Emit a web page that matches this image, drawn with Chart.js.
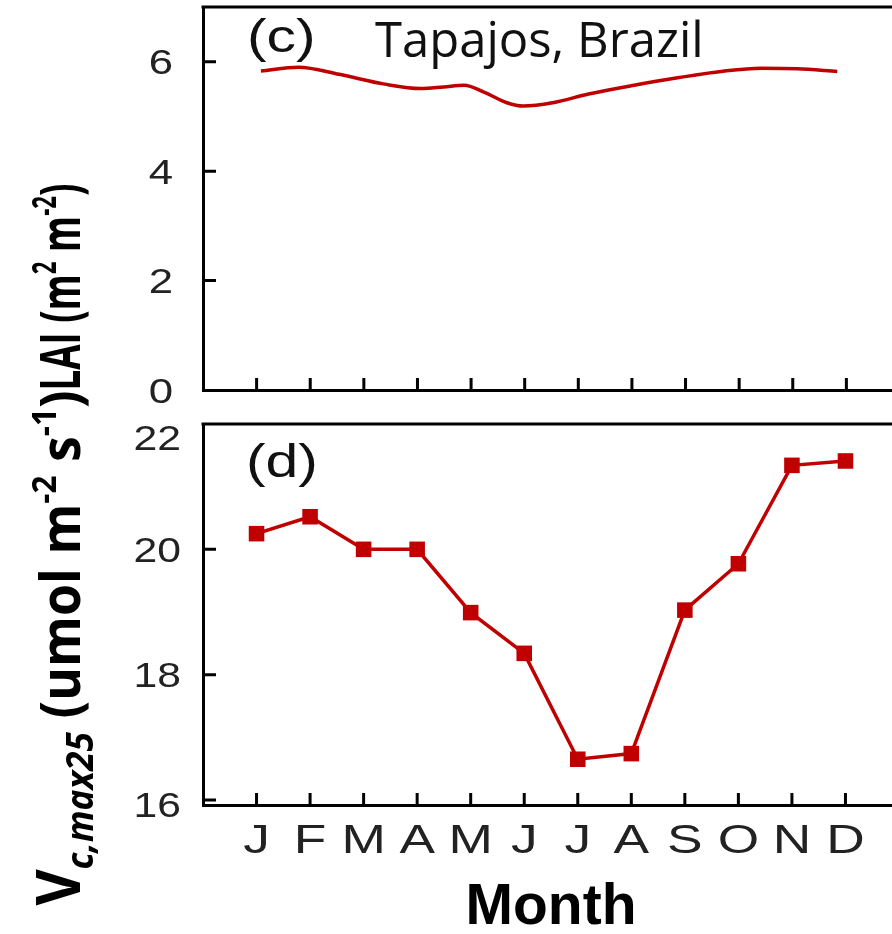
<!DOCTYPE html>
<html>
<head>
<meta charset="utf-8">
<script src="https://cdn.jsdelivr.net/npm/chart.js@4.4.1/dist/chart.umd.min.js"></script>
<style>
  html, body { margin: 0; padding: 0; background: #fff; overflow: hidden; }
  #wrap { position: relative; width: 892px; height: 934px; overflow: hidden; }
  canvas { position: absolute; left: 0; }
  #laiCanvas { top: 0; }
  #vcCanvas { top: 380px; }
</style>
</head>
<body>
<div id="wrap">
  <canvas id="laiCanvas" width="910" height="420"></canvas>
  <canvas id="vcCanvas" width="910" height="574"></canvas>
</div>
<script>
const monthLetters = ['J', 'F', 'M', 'A', 'M', 'J', 'J', 'A', 'S', 'O', 'N', 'D'];
const monthTicks = [0, 1, 2, 3, 4, 5, 6, 7, 8, 9, 10, 11];
const laiTicks = [0, 2, 4, 6];
const vcTicks = [16, 18, 20, 22];

// LAI seasonal curve, sampled at fractional month positions
const laiMonth = [0.08, 0.78, 1.54, 2.39, 3.06, 3.49, 3.87, 4.25, 4.67, 4.97, 5.52, 6.19, 7.04, 7.88, 8.73, 9.41, 10.08, 10.83];
const laiValue = [5.83, 5.90, 5.77, 5.59, 5.51, 5.54, 5.57, 5.44, 5.25, 5.19, 5.25, 5.41, 5.57, 5.71, 5.83, 5.88, 5.87, 5.82];

// monthly Vcmax25 (umol m-2 s-1)
const vcValue = [20.25, 20.52, 20.0, 20.0, 18.99, 18.34, 16.65, 16.74, 19.03, 19.77, 21.34, 21.41];

const RED = '#C00000';
const bold = (s) => `bold ${s}px "Open Sans"`;
const boldItalic = (s) => `italic bold ${s}px "Open Sans"`;

// draws a rotated (bottom-to-top) label made of runs with their own font / baseline shift
function drawVertical(ctx, runs, bx, cy, len) {
  ctx.save();
  ctx.translate(bx, cy);
  ctx.rotate(-Math.PI / 2);
  let total = 0;
  runs.forEach(r => { ctx.font = r.font; r.w = ctx.measureText(r.text).width; total += r.w; });
  ctx.scale(len ? len / total : 1, 1);
  ctx.fillStyle = '#000';
  ctx.textAlign = 'left';
  ctx.textBaseline = 'alphabetic';
  let x = -total / 2;
  runs.forEach(r => { ctx.font = r.font; ctx.fillText(r.text, x, r.dy || 0); x += r.w; });
  ctx.restore();
}

// text widened horizontally, anchored at (x, baseline) with given alignment
function drawWide(ctx, text, x, y, font, sx, align) {
  ctx.save();
  ctx.font = font;
  const w = ctx.measureText(text).width * sx;
  const left = align === 'right' ? x - w : align === 'center' ? x - w / 2 : x;
  ctx.translate(left, y);
  ctx.scale(sx, 1);
  ctx.textAlign = 'left';
  ctx.textBaseline = 'alphabetic';
  ctx.fillText(text, 0, 0);
  ctx.restore();
}

// inward tick marks, top border, tick labels and panel texts
const panelDeco = {
  id: 'panelDeco',
  afterDraw(chart, args, opts) {
    const { ctx, chartArea: a, scales: { x, y } } = chart;
    ctx.save();
    ctx.strokeStyle = '#000';
    ctx.lineWidth = 3;
    ctx.beginPath();
    x.ticks.forEach(t => {
      const px = x.getPixelForValue(t.value);
      ctx.moveTo(px, a.bottom);
      ctx.lineTo(px, a.bottom - 12);
    });
    y.ticks.forEach(t => {
      const py = y.getPixelForValue(t.value);
      if (py > a.top + 3 && py < a.bottom - 3) {
        ctx.moveTo(a.left, py);
        ctx.lineTo(a.left + 13, py);
      }
    });
    ctx.moveTo(a.left - 1.5, a.top);
    ctx.lineTo(a.right, a.top);
    ctx.stroke();

    ctx.fillStyle = '#222';
    const yl = opts.yLabels;
    y.ticks.forEach(t => {
      const py = y.getPixelForValue(t.value) + (yl.nudge[t.value] || 0);
      drawWide(ctx, String(t.value), yl.right, py + yl.size * 0.36, `${yl.size}px "Liberation Sans"`, yl.sx, 'right');
    });
    if (opts.xLabels) {
      const xl = opts.xLabels;
      x.ticks.forEach(t => {
        drawWide(ctx, monthLetters[t.value], x.getPixelForValue(t.value), a.bottom + xl.offset, `${xl.size}px "Liberation Sans"`, xl.sx, 'center');
      });
    }

    ctx.fillStyle = '#111';
    (opts.texts || []).forEach(t => drawWide(ctx, t.text, t.x, t.y, t.font, t.sx || 1, 'left'));
    if (opts.axisTitle) drawVertical(ctx, opts.axisTitle.runs, opts.axisTitle.x, opts.axisTitle.y, opts.axisTitle.len);
    ctx.restore();
  }
};

function baseOptions(yMin, yMax, yTicks, padTop, xHeight, showTitle) {
  return {
    responsive: false,
    devicePixelRatio: 1,
    animation: false,
    events: [],
    layout: { padding: { top: padTop, right: 10, left: 0, bottom: 0 } },
    plugins: { legend: { display: false }, tooltip: { enabled: false } },
    scales: {
      x: {
        type: 'linear',
        min: -1,
        max: 12,
        afterBuildTicks: (s) => { s.ticks = monthTicks.map(v => ({ value: v })); },
        afterFit: (s) => { s.height = xHeight; s.paddingLeft = 0; s.paddingRight = 0; },
        grid: { display: false, drawTicks: false },
        border: { display: true, color: '#000', width: 3 },
        ticks: { display: false },
        title: {
          display: showTitle,
          text: 'Month',
          color: '#000',
          font: { family: 'Liberation Sans', size: 57, weight: 'bold' },
          padding: { top: 0, bottom: 12 }
        }
      },
      y: {
        min: yMin,
        max: yMax,
        afterBuildTicks: (s) => { s.ticks = yTicks.map(v => ({ value: v })); },
        afterFit: (s) => { s.width = 203; s.paddingTop = 0; s.paddingBottom = 0; },
        grid: { display: false, drawTicks: false },
        border: { display: true, color: '#000', width: 3 },
        ticks: { display: false }
      }
    }
  };
}

// panel (c): LAI
const laiOptions = baseOptions(0, 7, laiTicks, 7, 30, false);
laiOptions.plugins.panelDeco = {
  yLabels: { right: 173, size: 35, sx: 1.25, nudge: {} },
  texts: [
    { text: '(c)', x: 247, y: 52, font: '46px "Liberation Sans"', sx: 1.28 },
    { text: 'Tapajos, Brazil', x: 375, y: 57, font: '49px "Open Sans"' }
  ],
  axisTitle: {
    x: 80, y: 287, len: 207,
    runs: [
      { text: 'LAI (m', font: bold(56) },
      { text: '2', font: bold(34), dy: -24 },
      { text: ' m', font: bold(56) },
      { text: '-2', font: bold(34), dy: -24 },
      { text: ')', font: bold(56) }
    ]
  }
};

new Chart(document.getElementById('laiCanvas'), {
  type: 'line',
  data: {
    datasets: [{
      data: laiMonth.map((m, i) => ({ x: m, y: laiValue[i] })),
      borderColor: RED,
      borderWidth: 3.5,
      pointRadius: 0,
      cubicInterpolationMode: 'monotone',
      fill: false
    }]
  },
  options: laiOptions,
  plugins: [panelDeco]
});

// panel (d): Vcmax25
const vcOptions = baseOptions(15.92, 22, vcTicks, 44, 149, true);
vcOptions.plugins.panelDeco = {
  yLabels: { right: 181, size: 35, sx: 1.22, nudge: { 22: 13, 16: 4 } },
  xLabels: { size: 41, sx: 1.3, offset: 48 },
  texts: [
    { text: '(d)', x: 246, y: 97, font: '46px "Liberation Sans"', sx: 1.28 }
  ],
  axisTitle: {
    x: 80, y: 268, len: 515,
    runs: [
      { text: 'V', font: bold(60) },
      { text: 'c,max25', font: boldItalic(38), dy: 13 },
      { text: ' (umol m', font: bold(56) },
      { text: '-2', font: bold(34), dy: -24 },
      { text: ' s', font: bold(56) },
      { text: '-1', font: bold(34), dy: -24 },
      { text: ')', font: bold(56) }
    ]
  }
};

new Chart(document.getElementById('vcCanvas'), {
  type: 'line',
  data: {
    datasets: [{
      data: monthTicks.map(m => ({ x: m, y: vcValue[m] })),
      borderColor: RED,
      borderWidth: 3.5,
      tension: 0,
      pointStyle: 'rect',
      pointRadius: 11,
      pointBackgroundColor: RED,
      pointBorderWidth: 0,
      fill: false
    }]
  },
  options: vcOptions,
  plugins: [panelDeco]
});
</script>
</body>
</html>
